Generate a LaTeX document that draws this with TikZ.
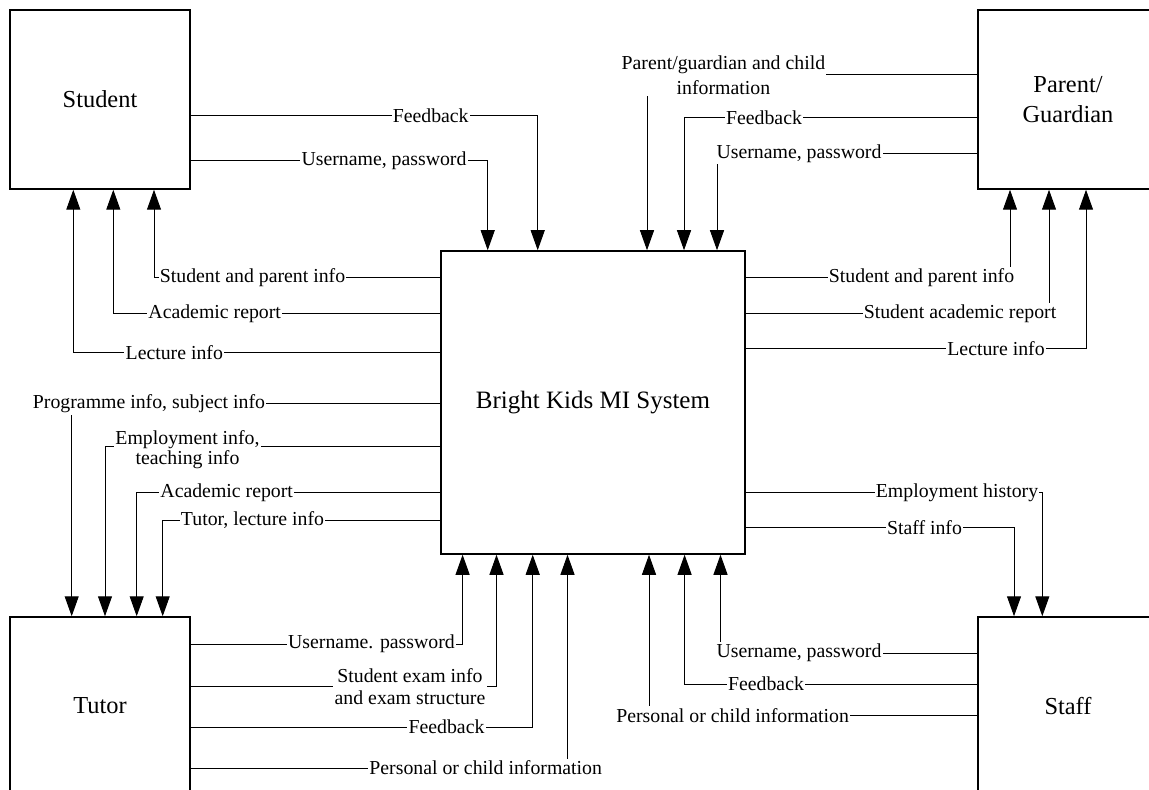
\documentclass[tikz,border=0pt]{standalone}
\usepackage{fontspec}
\setmainfont{Liberation Serif}
\usetikzlibrary{arrows.meta}
\begin{document}
\begin{tikzpicture}[x=0.5pt,y=-0.5pt,
  ent/.style={draw, line width=0.75pt, inner sep=0pt, minimum width=90pt, minimum height=89.5pt, font=\fontsize{12.2}{15}\selectfont, align=center},
  flow/.style={line width=0.5pt, -{Triangle[length=10pt,width=7pt]}},
  lbl/.style={fill=white, inner xsep=0.6pt, inner ysep=1pt, font=\fontsize{9.9}{12}\selectfont, align=center},
]
\clip (0,0) rectangle (1149,790);
\fill[white] (0,0) rectangle (1149,790);
\node[ent] (student) at (100,99.5) {Student};
\node[ent] (parent) at (1068,99.5) {Parent/\\Guardian};
\node[ent, minimum height=89pt] (tutor) at (100,706) {Tutor};
\node[ent, minimum height=89pt] (staff) at (1068,706) {Staff};
\node[ent, minimum width=152pt, minimum height=151.5pt, font=\fontsize{12.5}{15}\selectfont] (sys) at (593,402.5) {Bright Kids MI System};

% Student -> system
\draw[flow] (student.east |- 0,116) -| (sys.north -| 537.7,0);
\node[lbl] (l1) at (430.7,116) {Feedback};
\draw[flow] (student.east |- 0,161) -| (sys.north -| 487.7,0);
\node[lbl] (l2) at (384,161) {Username, password};

% system -> Student
\draw[flow] (sys.west |- 0,278) -| (student.south -| 154,0);
\node[lbl] (l3) at (252.5,278) {Student and parent info};
\draw[flow] (sys.west |- 0,314) -| (student.south -| 113.3,0);
\node[lbl] (l4) at (214.7,314) {Academic report};
\draw[flow] (sys.west |- 0,353) -| (student.south -| 73.3,0);
\node[lbl] (l5) at (174.3,353) {Lecture info};

% system -> Tutor
\draw[flow] (sys.west |- 0,404) -| (tutor.north -| 71.7,0);
\node[lbl] (l6) at (149,404) {Programme info, subject info};
\draw[flow] (sys.west |- 0,446.5) -| (tutor.north -| 105,0);
\node[lbl, font=\fontsize{9.9}{9}\selectfont] (l7) at (187.5,450) {Employment info,\\teaching info};
\draw[flow] (sys.west |- 0,492.5) -| (tutor.north -| 136.7,0);
\node[lbl] (l8) at (226.7,492.5) {Academic report};
\draw[flow] (sys.west |- 0,520) -| (tutor.north -| 162.7,0);
\node[lbl] (l9) at (252.5,520) {Tutor, lecture info};

% Tutor -> system
\draw[flow] (tutor.east |- 0,644) -| (sys.south -| 462.6,0);
\node[lbl] (l10) at (371.5,644) {Username. password};
\draw[flow] (tutor.east |- 0,686) -| (sys.south -| 496.5,0);
\node[lbl, font=\fontsize{9.9}{11}\selectfont] (l11) at (410,687) {Student exam info\\and exam structure};
\draw[flow] (tutor.east |- 0,727) -| (sys.south -| 532.7,0);
\node[lbl] (l12) at (446.5,727) {Feedback};
\draw[flow] (tutor.east |- 0,768) -| (sys.south -| 567.5,0);
\node[lbl] (l13) at (485.7,768) {Personal or child information};

% Staff -> system
\draw[flow] (staff.west |- 0,653) -| (sys.south -| 720.5,0);
\node[lbl] (l14) at (799,653) {Username, password};
\draw[flow] (staff.west |- 0,684) -| (sys.south -| 684.6,0);
\node[lbl] (l15) at (766,684) {Feedback};
\draw[flow] (staff.west |- 0,715.5) -| (sys.south -| 649,0);
\node[lbl] (l16) at (732.6,715.5) {Personal or child information};

% system -> Staff
\draw[flow] (sys.east |- 0,492.3) -| (staff.north -| 1042.3,0);
\node[lbl] (l17) at (957,492.3) {Employment history};
\draw[flow] (sys.east |- 0,527.3) -| (staff.north -| 1014,0);
\node[lbl] (l18) at (924.5,527.3) {Staff info};

% system -> Parent
\draw[flow] (sys.east |- 0,278) -| (parent.south -| 1010,0);
\node[lbl] (l19) at (921.5,278) {Student and parent info};
\draw[flow] (sys.east |- 0,314) -| (parent.south -| 1049,0);
\node[lbl] (l20) at (960,314) {Student academic report};
\draw[flow] (sys.east |- 0,349) -| (parent.south -| 1086,0);
\node[lbl] (l21) at (996,349) {Lecture info};

% Parent -> system
\draw[flow] (parent.west |- 0,75) -| (sys.north -| 647,0);
\node[lbl, font=\fontsize{9.9}{12.3}\selectfont] (l22) at (723.4,75) {Parent/guardian and child\\information};
\draw[flow] (parent.west |- 0,117.3) -| (sys.north -| 684,0);
\node[lbl] (l23) at (764,117.3) {Feedback};
\draw[flow] (parent.west |- 0,153.3) -| (sys.north -| 717,0);
\node[lbl] (l24) at (799,153.3) {Username, password};
\end{tikzpicture}
\end{document}
